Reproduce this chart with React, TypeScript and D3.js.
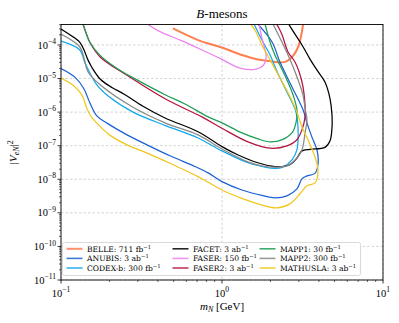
import React from "react";
import * as d3 from "d3";

type Pt = [number, number];

// mass m_N [GeV], |V_eN|^2
const belle: Pt[] = [
  [0.496, 3.1e-4], [0.71, 1.4e-4], [1.0, 8.4e-5], [1.33, 5.0e-5], [1.67, 3.7e-5],
  [1.99, 3.3e-5], [2.29, 3.0e-5], [2.53, 3.3e-5], [2.76, 4.7e-5], [2.97, 8.7e-5],
  [3.1, 1.85e-4], [3.19, 4.2e-4],
];
const anubis: Pt[] = [
  [0.1, 2.0e-5], [0.122, 1.1e-5], [0.139, 4.9e-6], [0.151, 1.9e-6], [0.167, 7.7e-7],
  [0.193, 4.7e-7], [0.257, 2.1e-7], [0.342, 1.06e-7], [0.475, 5.0e-8], [0.68, 2.4e-8],
  [0.82, 1.55e-8], [1.0, 8.5e-9], [1.33, 4.8e-9], [1.77, 3.3e-9], [2.13, 2.8e-9],
  [2.53, 3.2e-9], [2.92, 5.2e-9], [3.14, 1.03e-8], [3.37, 1.26e-8], [3.78, 1.5e-8],
  [3.95, 2.9e-8], [3.89, 7.5e-8], [3.62, 1.8e-7], [3.37, 4.8e-7], [3.19, 1.16e-6],
  [2.76, 4.9e-6], [2.29, 3.1e-5], [2.05, 1.2e-4], [1.67, 4.2e-4],
];
const codexb: Pt[] = [
  [0.1, 1.3e-4], [0.131, 7.1e-5], [0.141, 2.9e-5], [0.167, 6.5e-6], [0.2, 2.8e-6],
  [0.28, 1.0e-6], [0.45, 3.9e-7], [0.71, 1.7e-7], [1.0, 7.0e-8], [1.45, 3.1e-8],
  [1.85, 2.3e-8], [2.13, 2.1e-8], [2.39, 2.3e-8], [2.72, 3.8e-8], [2.92, 7.5e-8],
  [2.97, 3.0e-7], [2.92, 7.2e-7], [2.84, 1.25e-6], [2.53, 4.0e-6], [2.2, 1.6e-5],
  [1.99, 5.0e-5], [1.77, 1.4e-4], [1.58, 4.2e-4],
];
const facet: Pt[] = [
  [0.1, 3.0e-4], [0.122, 1.6e-4], [0.131, 1.2e-4], [0.139, 7.1e-5], [0.147, 3.6e-5],
  [0.156, 2.1e-5], [0.175, 9.7e-6], [0.2, 6.0e-6], [0.25, 3.3e-6], [0.323, 1.5e-6],
  [0.443, 6.7e-7], [0.71, 2.6e-7], [1.0, 9.4e-8], [1.26, 5.3e-8], [1.67, 3.1e-8],
  [2.13, 2.4e-8], [2.64, 2.7e-8], [2.92, 4.3e-8], [3.14, 7.0e-8], [3.52, 7.8e-8],
  [4.36, 8.9e-8], [4.69, 1.4e-7], [4.82, 3.4e-7], [4.82, 8.3e-7], [4.69, 2.5e-6],
  [4.36, 7.9e-6], [3.95, 1.6e-5], [3.52, 3.8e-5], [3.14, 1.0e-4], [2.84, 2.1e-4],
  [2.57, 4.5e-4],
];
const faser: Pt[] = [
  [0.347, 4.1e-4], [0.412, 2.5e-4], [0.55, 1.4e-4], [0.73, 7.6e-5], [0.97, 4.0e-5],
  [1.31, 2.0e-5], [1.63, 1.9e-5], [1.8, 2.4e-5], [1.88, 4.1e-5], [1.85, 7.1e-5],
  [1.77, 1.6e-4], [1.7, 4.2e-4],
];
const faser2: Pt[] = [
  [0.137, 4.2e-4], [0.143, 2.3e-4], [0.151, 1.2e-4], [0.175, 4.4e-5], [0.257, 1.25e-5],
  [0.443, 2.5e-6], [0.75, 7.2e-7], [1.0, 3.3e-7], [1.45, 1.3e-7], [1.99, 8.4e-8],
  [2.53, 9.9e-8], [2.92, 1.5e-7], [3.14, 3.0e-7], [3.28, 7.2e-7], [3.28, 1.6e-6],
  [3.14, 7.9e-6], [2.84, 3.1e-5], [2.57, 6.2e-5], [2.36, 2.0e-4], [2.2, 3.9e-4],
  [2.13, 4.5e-4],
];
const mapp1: Pt[] = [
  [0.137, 4.2e-4], [0.143, 2.3e-4], [0.151, 1.2e-4], [0.175, 4.9e-5], [0.223, 2.0e-5],
  [0.2965, 9.1e-6], [0.443, 3.3e-6], [0.589, 1.75e-6], [0.82, 7.2e-7], [1.0, 4.8e-7],
  [1.33, 2.4e-7], [1.67, 1.6e-7], [1.99, 1.3e-7], [2.39, 1.55e-7], [2.72, 2.4e-7],
  [2.88, 4.8e-7], [2.92, 1.16e-6], [2.76, 3.3e-6], [2.53, 9.1e-6], [2.29, 2.5e-5],
  [2.13, 5.0e-5], [1.99, 1.2e-4], [1.85, 4.2e-4],
];
const mapp2: Pt[] = [
  [0.1, 2.1e-4], [0.131, 8.7e-5], [0.139, 4.1e-5], [0.147, 1.6e-5], [0.175, 6.5e-6],
  [0.28, 1.4e-6], [0.443, 4.8e-7], [0.71, 2.1e-7], [1.0, 8.0e-8], [1.45, 3.3e-8],
  [1.85, 2.4e-8], [2.13, 2.3e-8], [2.53, 2.5e-8], [2.92, 4.3e-8], [3.14, 7.5e-8],
  [3.28, 2.4e-7], [3.37, 5.9e-7], [3.28, 1.3e-6], [3.18, 3.3e-6], [2.84, 1.6e-5],
  [2.57, 5.0e-5], [2.36, 1.2e-4], [2.2, 2.4e-4], [2.07, 4.2e-4],
];
const mathusla: Pt[] = [
  [0.1, 1.04e-5], [0.119, 6.3e-6], [0.135, 3.2e-6], [0.145, 1.27e-6], [0.156, 6.7e-7],
  [0.167, 4.7e-7], [0.2, 2.1e-7], [0.257, 1.06e-7], [0.342, 6.0e-8], [0.475, 3.0e-8],
  [0.71, 1.2e-8], [1.0, 4.8e-9], [1.33, 2.7e-9], [1.77, 1.7e-9], [2.17, 1.4e-9],
  [2.64, 1.85e-9], [3.05, 3.7e-9], [3.37, 6.4e-9], [3.78, 7.8e-9], [3.95, 1.8e-8],
  [3.78, 4.6e-8], [3.42, 1.5e-7], [3.14, 3.6e-7], [2.92, 1.0e-6], [2.61, 3.3e-6],
  [2.29, 1.04e-5], [1.99, 3.6e-5], [1.77, 1.0e-4], [1.63, 2.4e-4], [1.51, 4.2e-4],
];

const experiments = ["BELLE", "ANUBIS", "CODEX-b", "FACET", "FASER", "FASER2", "MAPP1", "MAPP2", "MATHUSLA"];
const lumiValues = ["711", "3", "300", "3", "150", "3", "30", "300", "3"];
const lumiUnits = ["fb", "ab", "fb", "ab", "fb", "ab", "fb", "fb", "ab"];
const curves = [belle, anubis, codexb, facet, faser, faser2, mapp1, mapp2, mathusla];

const colors: Record<string, string> = {
  BELLE: "#ff7f50",
  ANUBIS: "#1c61d6",
  "CODEX-b": "#0fa8f0",
  FACET: "#000000",
  FASER: "#ee82ee",
  FASER2: "#b5143e",
  MAPP1: "#1f9e54",
  MAPP2: "#888888",
  MATHUSLA: "#f0c71c",
};

const W = 399, H = 323;
const margin = { top: 24.5, right: 16, bottom: 43, left: 61 };
const xMin = 0.1, xMax = 10;
const yMin = 1e-11, yMax = 4.07e-4;

const serif = "'Liberation Serif', 'Times New Roman', serif";
const serif2 = "'DejaVu Serif', serif";

const Pow = ({ x, y, exp, anchor, size }: { x: number; y: number; exp: number; anchor: string; size: number }) => (
  <text x={x} y={y} textAnchor={anchor} fontFamily={serif} fontSize={size} fill="#000">
    10<tspan dy={-size * 0.42} fontSize={size * 0.72}>{exp < 0 ? "\u2212" + Math.abs(exp) : exp}</tspan>
  </text>
);

export default function App() {
  const x = d3.scaleLog().domain([xMin, xMax]).range([margin.left, W - margin.right]);
  const y = d3.scaleLog().domain([yMin, yMax]).range([H - margin.bottom, margin.top]);
  const line = d3
    .line<Pt>()
    .x((d) => x(d[0]))
    .y((d) => y(d[1]))
    .curve(d3.curveCatmullRom.alpha(0.5));

  const x0 = margin.left, x1 = W - margin.right, y0 = H - margin.bottom, y1 = margin.top;

  const xMajor = [-1, 0, 1];
  const xMinor: number[] = [];
  [-1, 0].forEach((k) => d3.range(2, 10).forEach((m) => xMinor.push(m * Math.pow(10, k))));
  const yMajor = d3.range(-11, -3);
  const yMinor: number[] = [];
  d3.range(-11, -3).forEach((k) =>
    d3.range(2, 10).forEach((m) => {
      const v = m * Math.pow(10, k);
      if (v < yMax) yMinor.push(v);
    })
  );

  const legendCols = [66.5, 172.5, 259.5];
  const legendRows = [248.8, 258.4, 268];

  return (
    <svg width={W} height={H} style={{ position: "absolute", left: 0, top: 0, background: "#fff" }}>
      <defs>
        <clipPath id="plotArea">
          <rect x={x0} y={y1} width={x1 - x0} height={y0 - y1} />
        </clipPath>
      </defs>
      <rect x={0} y={0} width={W} height={H} fill="#fff" />

      {/* grid */}
      {xMajor.map((k) => (
        <line key={"gx" + k} x1={x(Math.pow(10, k))} x2={x(Math.pow(10, k))} y1={y1} y2={y0}
          stroke="#c8c8c8" strokeWidth={0.8} strokeDasharray="2.5,2" />
      ))}
      {yMajor.map((k) => (
        <line key={"gy" + k} x1={x0} x2={x1} y1={y(Math.pow(10, k))} y2={y(Math.pow(10, k))}
          stroke="#c8c8c8" strokeWidth={0.8} strokeDasharray="2.5,2" />
      ))}

      {/* curves */}
      <g clipPath="url(#plotArea)">
        {curves.map((c, i) => (
          <path key={experiments[i]} d={line(c) || ""} fill="none" stroke={colors[experiments[i]]}
            strokeWidth={experiments[i] === "BELLE" ? 2 : 1.25} strokeLinejoin="round" />
        ))}
      </g>

      {/* frame */}
      <rect x={x0} y={y1} width={x1 - x0} height={y0 - y1} fill="none" stroke="#000" strokeWidth={0.9} />

      {/* x ticks */}
      {xMajor.map((k) => (
        <g key={"xt" + k}>
          <line x1={x(Math.pow(10, k))} x2={x(Math.pow(10, k))} y1={y0} y2={y0 + 3.5} stroke="#000" strokeWidth={0.8} />
          <Pow x={x(Math.pow(10, k))} y={y0 + 16.5} exp={k} anchor="middle" size={10.5} />
        </g>
      ))}
      {xMinor.map((v, i) => (
        <line key={"xm" + i} x1={x(v)} x2={x(v)} y1={y0} y2={y0 + 2} stroke="#000" strokeWidth={0.6} />
      ))}

      {/* y ticks */}
      {yMajor.map((k) => (
        <g key={"yt" + k}>
          <line x1={x0 - 3.5} x2={x0} y1={y(Math.pow(10, k))} y2={y(Math.pow(10, k))} stroke="#000" strokeWidth={0.8} />
          <Pow x={x0 - 5} y={y(Math.pow(10, k)) + 3.6} exp={k} anchor="end" size={10.5} />
        </g>
      ))}
      {yMinor.map((v, i) => (
        <line key={"ym" + i} x1={x0 - 2} x2={x0} y1={y(v)} y2={y(v)} stroke="#000" strokeWidth={0.6} />
      ))}

      {/* title and axis labels */}
      <text x={(x0 + x1) / 2} y={18} textAnchor="middle" fontFamily={serif} fontSize={13}>
        <tspan fontStyle="italic">B</tspan>-mesons
      </text>
      <text x={(x0 + x1) / 2} y={310} textAnchor="middle" fontFamily={serif} fontSize={11}>
        <tspan fontStyle="italic">m</tspan>
        <tspan fontStyle="italic" fontSize={8} dy={2}>N</tspan>
        <tspan dy={-2}> [GeV]</tspan>
      </text>
      <text transform={`translate(17,${(y0 + y1) / 2}) rotate(-90)`} textAnchor="middle" fontFamily={serif} fontSize={11}>
        |<tspan fontStyle="italic">V</tspan>
        <tspan fontStyle="italic" fontSize={8} dy={2}>eN</tspan>
        <tspan dy={-2}>|</tspan>
        <tspan fontSize={8} dy={-4.5}>2</tspan>
      </text>

      {/* legend */}
      <rect x={62.5} y={242.5} width={298} height={33} rx={2} fill="#fff" fillOpacity={0.85} stroke="#d0d0d0" strokeWidth={0.8} />
      {experiments.map((name, i) => {
        const cx = legendCols[Math.floor(i / 3)];
        const cy = legendRows[i % 3];
        return (
          <g key={"lg" + name}>
            <line x1={cx} x2={cx + 16} y1={cy} y2={cy} stroke={colors[name]} strokeWidth={name === "BELLE" ? 2 : 1.6} strokeOpacity={0.85} />
            <text x={cx + 20.5} y={cy + 2.7} fontFamily={serif2} fontSize={7.6} fill="#000">
              {name}: {lumiValues[i]} {lumiUnits[i]}
              <tspan dy={-3} fontSize={5.3}>{"\u22121"}</tspan>
            </text>
          </g>
        );
      })}
    </svg>
  );
}
